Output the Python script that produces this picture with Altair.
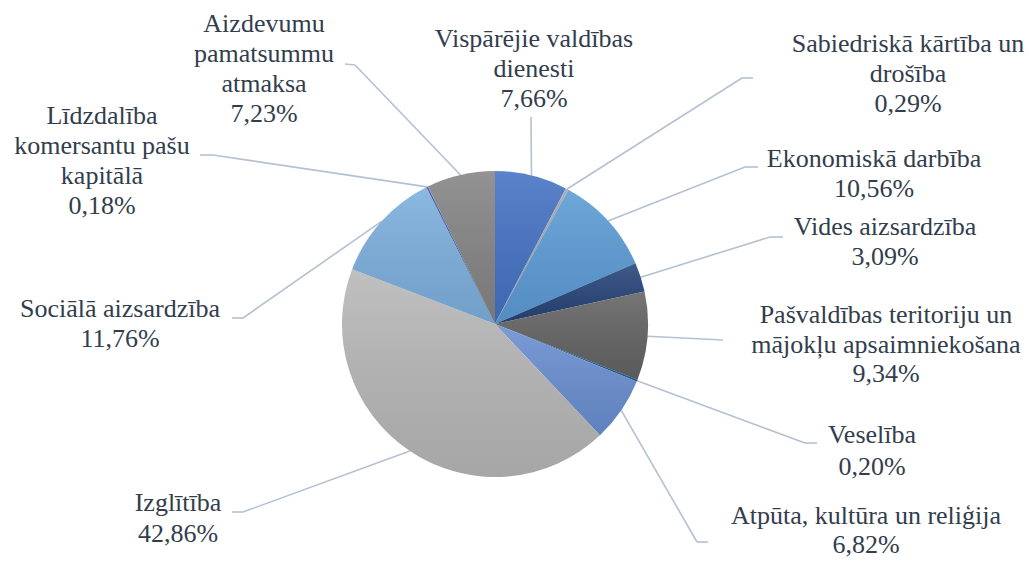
import math
import altair as alt
import pandas as pd

# ---------------- data ----------------
categories = [
    "Vispārējie valdības dienesti",
    "Sabiedriskā kārtība un drošība",
    "Ekonomiskā darbība",
    "Vides aizsardzība",
    "Pašvaldības teritoriju un mājokļu apsaimniekošana",
    "Veselība",
    "Atpūta, kultūra un reliģija",
    "Izglītība",
    "Sociālā aizsardzība",
    "Līdzdalība komersantu pašu kapitālā",
    "Aizdevumu pamatsummu atmaksa",
]
values = [7.66, 0.29, 10.56, 3.09, 9.34, 0.20, 6.82, 42.86, 11.76, 0.18, 7.23]
label_lines = [
    ["Vispārējie valdības", "dienesti"],
    ["Sabiedriskā kārtība un", "drošība"],
    ["Ekonomiskā darbība"],
    ["Vides aizsardzība"],
    ["Pašvaldības teritoriju un", "mājokļu apsaimniekošana"],
    ["Veselība"],
    ["Atpūta, kultūra un reliģija"],
    ["Izglītība"],
    ["Sociālā aizsardzība"],
    ["Līdzdalība", "komersantu pašu", "kapitālā"],
    ["Aizdevumu", "pamatsummu", "atmaksa"],
]

# ---------------- styles / layout ----------------
colors = ["#4472C4", "#A5A5A5", "#5B9BD5", "#264478", "#636363", "#255E91",
          "#698ED0", "#B7B7B7", "#7CAFDD", "#335AA1", "#848484"]
TXT = "#323d4d"
LINE = "#b4c1d2"
FONT = "Liberation Serif"
W, H = 1019, 549
OFF = 8
CX, CY, R = 495 - OFF, 324 - OFF, 153

# label anchor (center x, first baseline), line height, leader elbow / end points (page px)
label_pos = [(534, 47), (908, 52), (874, 167), (885, 235), (886, 323), (872, 443),
             (866, 524), (178, 511), (120, 317), (102, 124), (264, 32)]
line_h = [30, 30, 30, 30, 29.5, 32, 29, 31, 30, 30, 30]
elbows = [(531, 117), (742, 78), (745, 167), (770, 237), (723, 340), (805, 443),
          (697, 542), (243, 512), (243, 318), (213, 155), (355, 65)]
ends = [(531, 117), (753, 78), (758, 167), (783, 237), (723, 340), (817, 443),
        (708, 542), (232, 512), (232, 318), (200, 155), (345, 64)]

# ---------------- tables ----------------
pie_df = pd.DataFrame({"idx": list(range(len(categories))),
                       "category": categories, "value": values})

total = sum(values)
seg_rows, txt_rows = [], []
cum = 0.0
for i, v in enumerate(values):
    mid = (cum + v / 2) / total * 2 * math.pi
    cum += v
    sx = CX + R * math.sin(mid)
    sy = CY - R * math.cos(mid)
    ex, ey = elbows[i][0] - OFF, elbows[i][1] - OFF
    nx, ny = ends[i][0] - OFF, ends[i][1] - OFF
    seg_rows.append({"x": sx, "y": sy, "x2": ex, "y2": ey})
    if (ex, ey) != (nx, ny):
        seg_rows.append({"x": ex, "y": ey, "x2": nx, "y2": ny})
    pct = f"{v:.2f}".replace(".", ",") + "%"
    for k, line in enumerate(label_lines[i] + [pct]):
        txt_rows.append({"x": label_pos[i][0] - OFF,
                         "y": label_pos[i][1] - OFF + k * line_h[i],
                         "label": line})
seg_df = pd.DataFrame(seg_rows)
txt_df = pd.DataFrame(txt_rows)

xs = alt.Scale(domain=[0, W], range=[0, W], nice=False, zero=False)
ys = alt.Scale(domain=[0, H], range=[0, H], nice=False, zero=False)

lines = alt.Chart(seg_df).mark_rule(color=LINE, strokeWidth=1.6).encode(
    x=alt.X("x:Q", scale=xs, axis=None),
    y=alt.Y("y:Q", scale=ys, axis=None),
    x2="x2:Q", y2="y2:Q",
)

pie = alt.Chart(pie_df).mark_arc(outerRadius=R).encode(
    theta=alt.Theta("value:Q", stack=True),
    order=alt.Order("idx:Q", sort="ascending"),
    color=alt.Color("category:N", scale=alt.Scale(domain=categories, range=colors), legend=None),
    x=alt.value(CX), y=alt.value(CY),
)

shade = alt.Chart(pie_df).mark_arc(
    outerRadius=R,
    fill=alt.Gradient(gradient="linear", x1=0, x2=0, y1=0, y2=1,
                      stops=[alt.GradientStop(offset=0, color="rgba(255,255,255,0.12)"),
                             alt.GradientStop(offset=1, color="rgba(0,0,0,0.09)")]),
).encode(
    theta=alt.Theta("value:Q", stack=True),
    order=alt.Order("idx:Q", sort="ascending"),
    x=alt.value(CX), y=alt.value(CY),
)

texts = alt.Chart(txt_df).mark_text(
    font=FONT, fontSize=26, color=TXT, align="center", baseline="alphabetic",
).encode(
    x=alt.X("x:Q", scale=xs, axis=None),
    y=alt.Y("y:Q", scale=ys, axis=None),
    text="label:N",
)

chart = alt.layer(lines, pie, shade, texts).properties(
    width=W, height=H, padding=0,
    autosize=alt.AutoSizeParams(type="none"),
    background="white",
).configure_view(strokeWidth=0)

chart.save("out.html", embed_options={"renderer": "svg", "actions": False})
